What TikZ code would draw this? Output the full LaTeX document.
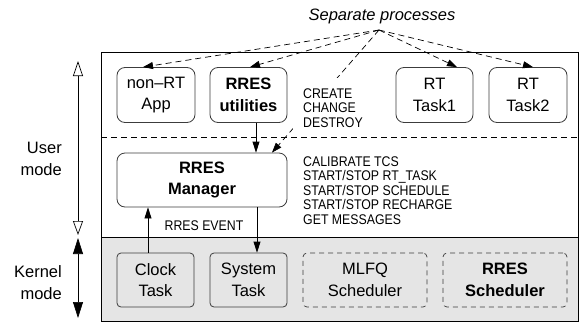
\documentclass[tikz,border=0pt]{standalone}
\usepackage{fontspec}
\setmainfont{Liberation Sans}
\newfontfamily\narrowfont[FakeStretch=0.88]{Liberation Sans}
\usetikzlibrary{arrows.meta}
\definecolor{kgray}{RGB}{229,229,229}
\definecolor{bordergray}{RGB}{60,60,60}
\tikzset{
  box/.style={draw=bordergray, line width=0.8pt, rounded corners=8pt, fill=white,
    align=center, inner sep=0pt, font=\fontsize{16.5}{21.5}\selectfont},
  kbox/.style={draw=bordergray, line width=0.8pt, rounded corners=4pt, fill=kgray,
    align=center, inner sep=0pt, font=\fontsize{16.5}{21.5}\selectfont},
  dbox/.style={kbox, dash pattern=on 5pt off 4pt, line width=0.7pt},
  small/.style={font=\narrowfont\fontsize{14}{14.4}\selectfont, align=left, inner sep=0pt},
  side/.style={font=\fontsize{16.5}{22}\selectfont, align=right, inner sep=0pt},
  sep/.style={dash pattern=on 6pt off 4pt, line width=0.8pt},
  procarrow/.style={dash pattern=on 6pt off 4pt, line width=0.7pt, -{Triangle[length=10pt,width=7pt]}},
  solidarrow/.style={line width=0.8pt, -{Triangle[length=11pt,width=7pt]}},
}
\begin{document}
\begin{tikzpicture}[x=1pt,y=-1pt]
\useasboundingbox (0,0) rectangle (582,322);
% regions
\fill[kgray] (101,237) rectangle (578,321);
\draw[line width=0.8pt] (101,52) rectangle (578,321);
\draw[line width=0.8pt] (101,237) -- (578,237);
\draw[sep] (101,137) -- (578,137);
% side arrows
\draw[line width=0.7pt, {Triangle[open,length=15pt,width=10pt]}-{Triangle[open,length=14pt,width=10pt]}] (78,61) -- (78,235);
\draw[line width=0.7pt, {Triangle[length=16pt,width=10pt]}-{Triangle[length=16pt,width=10pt]}] (78,238) -- (78,318);
\node[side, anchor=base east] (user) at (62,175) {User\\mode};
\node[side, anchor=base east] (kernel) at (62,299) {Kernel\\mode};
% boxes
\node[box, minimum width=78pt, minimum height=55pt] (nonrt) at (156,95) {non\textendash RT\\App};
\node[box, minimum width=77pt, minimum height=55pt] (util) at (248.5,95) {\textbf{RRES}\\\textbf{utilities}};
\node[box, minimum width=77pt, minimum height=55pt] (rt1) at (434.5,95) {RT\\Task1};
\node[box, minimum width=78pt, minimum height=55pt] (rt2) at (528,95) {RT\\Task2};
\node[box, minimum width=170pt, minimum height=54pt] (mgr) at (202,180) {\textbf{RRES}\\\textbf{Manager}};
\node[kbox, minimum width=77pt, minimum height=54pt] (clock) at (155.5,280) {Clock\\Task};
\node[kbox, minimum width=77pt, minimum height=54pt] (sys) at (248.5,280) {System\\Task};
\node[dbox, minimum width=124pt, minimum height=54pt] (mlfq) at (365,280) {MLFQ\\Scheduler};
\node[dbox, minimum width=124pt, minimum height=54pt] (rsched) at (505,280) {\textbf{RRES}\\\textbf{Scheduler}};
% separate processes
\node[font=\itshape\fontsize{16.5}{16.5}\selectfont, anchor=base, inner sep=0pt] (sepproc) at (382,20) {Separate processes};
\coordinate (src) at (379,30);
\draw[procarrow] (src) -- ([xshift=-13pt]nonrt.north);
\draw[procarrow] (src) -- ([xshift=1.5pt]util.north);
\draw[procarrow] (src) -- ([xshift=22.5pt]rt1.north);
\draw[procarrow] (src) -- ([xshift=5pt]rt2.north);
\draw[procarrow] (src) -- ([xshift=70pt]mgr.north);
% solid arrows
\draw[solidarrow] ([xshift=7.5pt]util.south) -- ([xshift=7.5pt]util.south |- mgr.north);
\draw[solidarrow] ([xshift=-7.5pt]clock.north) -- ([xshift=-7.5pt]clock.north |- mgr.south);
\draw[solidarrow] ([xshift=8.5pt]sys.north |- mgr.south) -- ([xshift=8.5pt]sys.north);
% text
\node[small, fill=white, inner xsep=10pt, inner ysep=10pt, anchor=base west] (cmds) at (293,127) {CREATE\\CHANGE\\DESTROY};
\node[small, anchor=base west] (calib) at (303,224) {CALIBRATE TCS\\START/STOP RT\_TASK\\START/STOP SCHEDULE\\START/STOP RECHARGE\\GET MESSAGES};
\node[small, anchor=base] (event) at (204,230) {RRES EVENT};
\end{tikzpicture}
\end{document}
